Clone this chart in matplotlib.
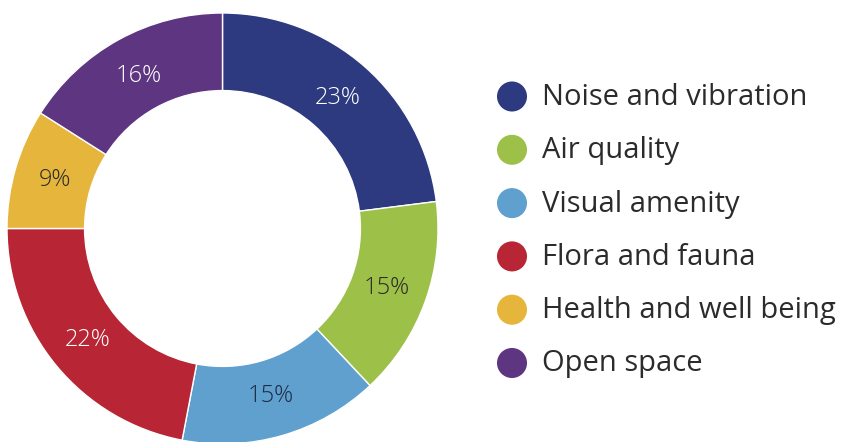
import matplotlib
matplotlib.use("Agg")
import matplotlib.pyplot as plt
import numpy as np

categories = ["Noise and vibration", "Air quality", "Visual amenity",
              "Flora and fauna", "Health and well being", "Open space"]
shares = [23, 15, 15, 22, 9, 16]
colors = ["#2E3A80", "#9DC148", "#5FA0CF", "#B82535", "#E5B53C", "#5E3580"]
label_colors = ["white", "#2a2a2a", "#1f2a44", "white", "#2a2a2a", "white"]

plt.rcParams['font.family'] = ['Open Sans', 'DejaVu Sans']

fig = plt.figure(figsize=(8.53, 4.42), dpi=100)

# donut: centre at (222.5, 228.5) px from top, radius 215.5 px
ax = fig.add_axes([7 / 853, -2 / 442, 431 / 853, 431 / 442])
wedges, texts = ax.pie(shares, colors=colors, startangle=90, counterclock=False,
                       radius=1, wedgeprops=dict(width=0.36, edgecolor="white", linewidth=1))
ax.set_xlim(-1, 1)
ax.set_ylim(-1, 1)
ax.set_aspect("equal")
ax.axis("off")

cum = np.cumsum([0] + shares[:-1])
for i, v in enumerate(shares):
    mid = np.deg2rad(90 - 3.6 * (cum[i] + v / 2))
    r = 0.81
    ax.text(r * np.cos(mid), r * np.sin(mid), f"{v}%", ha="center", va="center",
            fontsize=17, color=label_colors[i], fontweight="light")

# legend
lax = fig.add_axes([0, 0, 1, 1])
lax.set_xlim(0, 853)
lax.set_ylim(442, 0)
lax.axis("off")
rows = [96.5 + 53.3 * i for i in range(len(categories))]
lax.scatter([512] * len(rows), rows, s=30 ** 2 * 0.52, c=colors, edgecolors="none")
for y, name in zip(rows, categories):
    lax.text(542, y + 1, name, ha="left", va="center", fontsize=21, color="#2b2b2b")

fig.savefig("out.png", dpi=100)
